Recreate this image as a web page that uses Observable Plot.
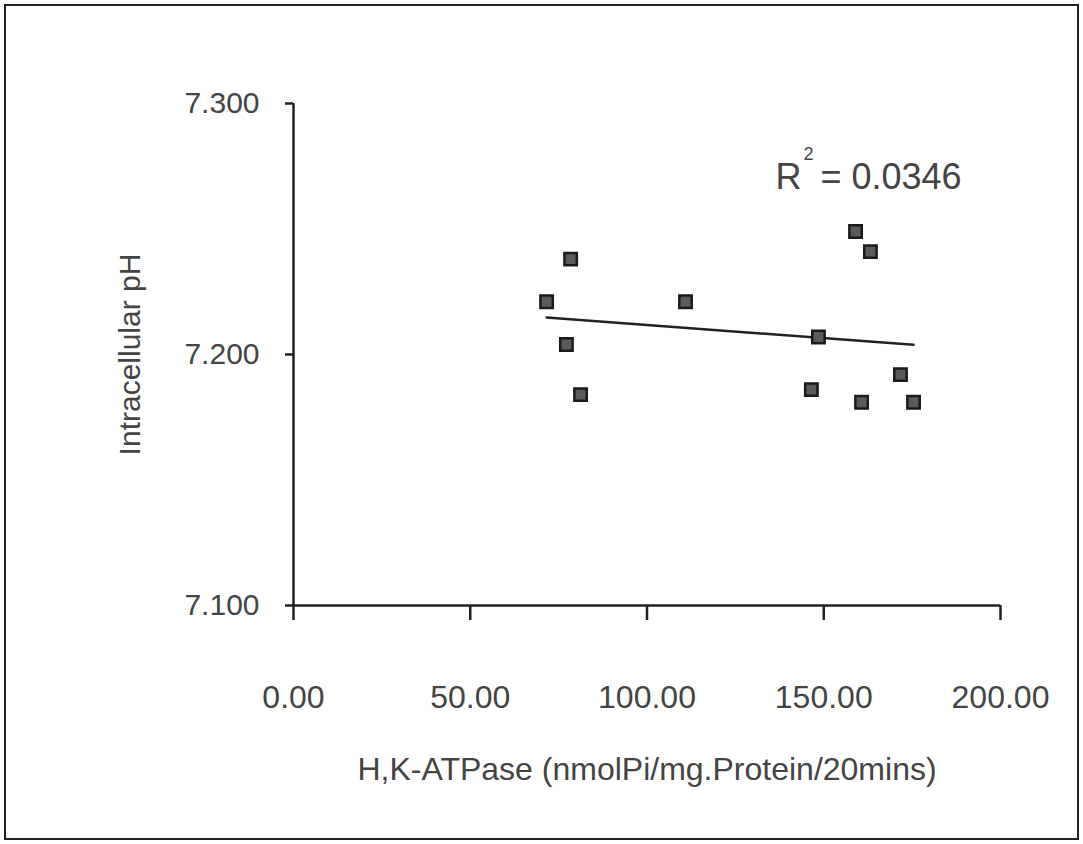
<!DOCTYPE html>
<html><head><meta charset="utf-8">
<script src="https://cdn.jsdelivr.net/npm/d3@7"></script>
<script src="https://cdn.jsdelivr.net/npm/@observablehq/plot@0.6"></script>
<style>
body{margin:0;background:#fff}
#chart svg{display:block;outline:2px solid #222;outline-offset:-6px}
</style>
</head><body><div id="chart"></div>
<script>
// Data
const atpase = [71.6, 78.4, 77.2, 81.2, 110.9, 159.0, 163.2, 148.5, 146.5, 160.7, 171.7, 175.4];
const ph     = [7.221, 7.238, 7.204, 7.184, 7.221, 7.249, 7.241, 7.207, 7.186, 7.181, 7.192, 7.181];
const xTicks = [0, 50, 100, 150, 200];
const yTicks = [7.1, 7.2, 7.3];
const xTitle = "H,K-ATPase (nmolPi/mg.Protein/20mins)";
const yTitle = "Intracellular pH";
const r2Parts = ["R", "2", "= 0.0346"];

const data = atpase.map((x, i) => ({x, y: ph[i]}));
const font = "'Liberation Sans', Arial, sans-serif";
const ink = "#444";

const chart = Plot.plot({
  width: 1083,
  height: 844,
  marginLeft: 293,
  marginRight: 83,
  marginTop: 103,
  marginBottom: 239,
  style: {fontFamily: font, color: ink, background: "#fff"},
  x: {domain: [0, 200]},
  y: {domain: [7.1, 7.3]},
  marks: [
    Plot.ruleX([0], {stroke: "#222", strokeWidth: 2.5}),
    Plot.ruleY([7.1], {stroke: "#222", strokeWidth: 2.5}),
    Plot.axisY({
      ticks: yTicks, tickFormat: d3.format(".3f"), tickSize: 8, tickPadding: 26,
      fontSize: 30, stroke: "#222", strokeWidth: 2.5, fill: ink,
      label: yTitle, labelAnchor: "center", labelOffset: 175, labelArrow: "none"
    }),
    Plot.axisX({
      ticks: xTicks, tickFormat: d3.format(".2f"), tickSize: 15, tickPadding: 65,
      fontSize: 32, stroke: "#222", strokeWidth: 2.5, fill: ink,
      label: xTitle, labelAnchor: "center", labelOffset: 174, labelArrow: "none"
    }),
    Plot.linearRegressionY(data, {x: "x", y: "y", ci: 0, stroke: "#222", strokeWidth: 2.5}),
    Plot.dot(data, {x: "x", y: "y", symbol: "square", r: 7, fill: "#5a5a5a", stroke: "#1a1a1a", strokeWidth: 2.5}),
    Plot.text([r2Parts[0]], {frameAnchor: "top-left", dx: 482, dy: 85, textAnchor: "start", lineAnchor: "bottom", fontSize: 36, fill: ink}),
    Plot.text([r2Parts[1]], {frameAnchor: "top-left", dx: 510, dy: 56, textAnchor: "start", lineAnchor: "bottom", fontSize: 18, fill: ink}),
    Plot.text([r2Parts[2]], {frameAnchor: "top-left", dx: 527, dy: 85, textAnchor: "start", lineAnchor: "bottom", fontSize: 36, fill: ink})
  ]
});
document.getElementById("chart").appendChild(chart);
</script>
</body></html>
